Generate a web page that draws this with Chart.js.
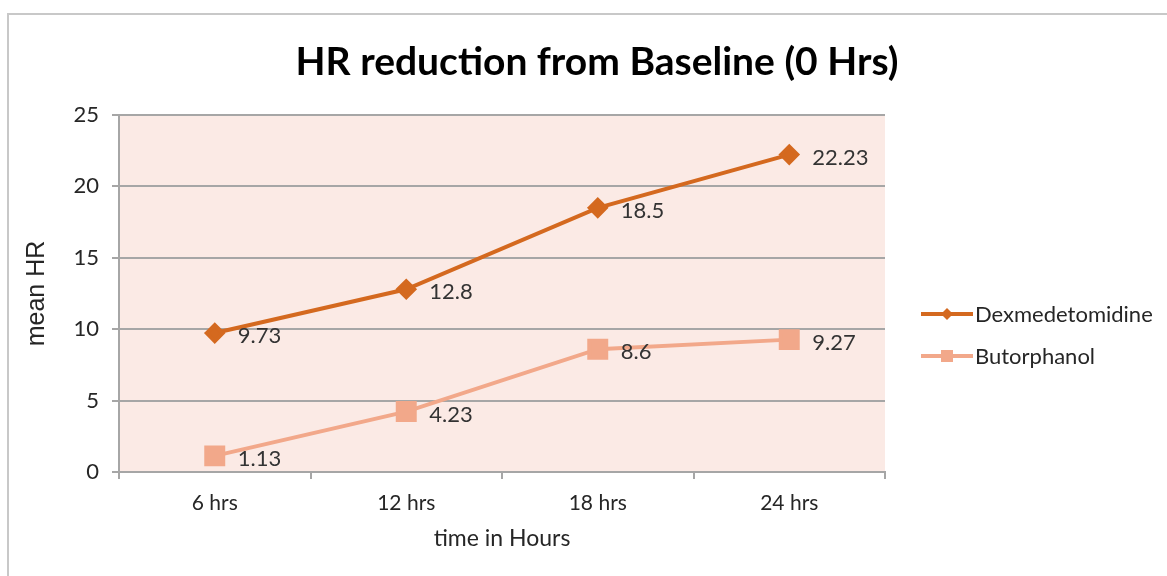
<!DOCTYPE html>
<html>
<head>
<meta charset="utf-8">
<script src="https://cdn.jsdelivr.net/npm/chart.js@4"></script>
<style>
  html, body { margin: 0; padding: 0; background: #fff; }
  #frame { position: absolute; left: 7px; top: 13px; width: 1200px; height: 600px;
           border-left: 2px solid #c8c8c8; border-top: 2px solid #c8c8c8; }
  #wrap { position: absolute; left: 0; top: 0; width: 1167px; height: 576px; }
</style>
</head>
<body>
<div id="frame"></div>
<div id="wrap"><canvas id="hrChart" width="1167" height="576"></canvas></div>
<script>
const timePoints = ['6 hrs', '12 hrs', '18 hrs', '24 hrs'];
const dexValues = [9.73, 12.8, 18.5, 22.23];
const butValues = [1.13, 4.23, 8.6, 9.27];
const yTicks = [0, 5, 10, 15, 20, 25];
const chartTitle = 'HR reduction from Baseline (0 Hrs)';

const dexColor = '#d4691f';
const butColor = '#f2a88a';

// pink plot background
const plotBg = {
  id: 'plotBg',
  beforeDraw(chart) {
    const { ctx, chartArea: a } = chart;
    ctx.save();
    ctx.fillStyle = '#fbeae5';
    ctx.fillRect(a.left, a.top, a.right - a.left, a.bottom - a.top);
    ctx.restore();
  }
};

// title centred on the whole page, not the plot
const pageTitle = {
  id: 'pageTitle',
  afterDraw(chart) {
    const ctx = chart.ctx;
    ctx.save();
    ctx.font = 'bold 39px Lato';
    ctx.fillStyle = '#000';
    ctx.textAlign = 'center';
    ctx.textBaseline = 'middle';
    ctx.fillText(chartTitle, 597, 62);
    ctx.restore();
  }
};

// value labels to the right of each point
const valueLabels = {
  id: 'valueLabels',
  afterDatasetsDraw(chart) {
    const ctx = chart.ctx;
    ctx.save();
    ctx.font = '22px Lato';
    ctx.fillStyle = '#333';
    ctx.textBaseline = 'middle';
    chart.data.datasets.forEach((ds, i) => {
      chart.getDatasetMeta(i).data.forEach((pt, j) => {
        ctx.fillText(String(ds.data[j]), pt.x + 23, pt.y + 3);
      });
    });
    ctx.restore();
  }
};

// legend drawn at the right, like the original
const sideLegend = {
  id: 'sideLegend',
  afterDraw(chart) {
    const ctx = chart.ctx;
    ctx.save();
    ctx.font = '22px Lato';
    ctx.textBaseline = 'middle';
    chart.data.datasets.forEach((ds, i) => {
      const y = 314 + i * 42;
      const x0 = 921, x1 = 973;
      ctx.strokeStyle = ds.borderColor;
      ctx.lineWidth = 4;
      ctx.beginPath();
      ctx.moveTo(x0, y);
      ctx.lineTo(x1, y);
      ctx.stroke();
      ctx.fillStyle = ds.backgroundColor;
      const cx = (x0 + x1) / 2;
      if (i === 0) {
        ctx.beginPath();
        ctx.moveTo(cx, y - 6);
        ctx.lineTo(cx + 6, y);
        ctx.lineTo(cx, y + 6);
        ctx.lineTo(cx - 6, y);
        ctx.closePath();
        ctx.fill();
      } else {
        ctx.fillRect(cx - 6, y - 6, 12, 12);
      }
      ctx.fillStyle = '#262626';
      ctx.fillText(ds.label, x1 + 2, y + 1);
    });
    ctx.restore();
  }
};

new Chart(document.getElementById('hrChart'), {
  type: 'line',
  data: {
    labels: timePoints,
    datasets: [
      {
        label: 'Dexmedetomidine',
        data: dexValues,
        borderColor: dexColor,
        backgroundColor: dexColor,
        borderWidth: 4,
        pointStyle: 'rectRot',
        pointRadius: 8,
        tension: 0
      },
      {
        label: 'Butorphanol',
        data: butValues,
        borderColor: butColor,
        backgroundColor: butColor,
        borderWidth: 4,
        pointStyle: 'rect',
        pointRadius: 12,
        tension: 0
      }
    ]
  },
  options: {
    responsive: false,
    animation: false,
    devicePixelRatio: 1,
    layout: { padding: { left: 20, right: 282, top: 115, bottom: 20 } },
    plugins: {
      legend: { display: false },
      tooltip: { enabled: false },
      title: { display: false }
    },
    scales: {
      x: {
        offset: true,
        grid: { display: true, drawOnChartArea: false, offset: true, tickLength: 7, color: '#a6a6a6', lineWidth: 2 },
        border: { display: true, color: '#a6a6a6', width: 2 },
        ticks: { color: '#262626', font: { family: 'Lato', size: 21 }, padding: 12 },
        title: { display: true, text: 'time in Hours', color: '#262626', font: { family: 'Lato', size: 23 }, padding: { top: 4 } },
        afterFit(s) { s.height = 84; }
      },
      y: {
        min: 0,
        max: 25,
        afterBuildTicks(s) { s.ticks = yTicks.map(v => ({ value: v })); },
        grid: { color: '#a6a6a6', lineWidth: 2, tickLength: 7 },
        border: { display: true, color: '#a6a6a6', width: 2 },
        ticks: { color: '#262626', font: { family: 'Lato', size: 22 }, padding: 13 },
        title: { display: true, text: 'mean HR', color: '#262626', font: { family: 'Liberation Sans', size: 25 }, padding: 2 },
        afterFit(s) { s.width = 99; }
      }
    }
  },
  plugins: [plotBg, valueLabels, sideLegend, pageTitle]
});
</script>
</body>
</html>
